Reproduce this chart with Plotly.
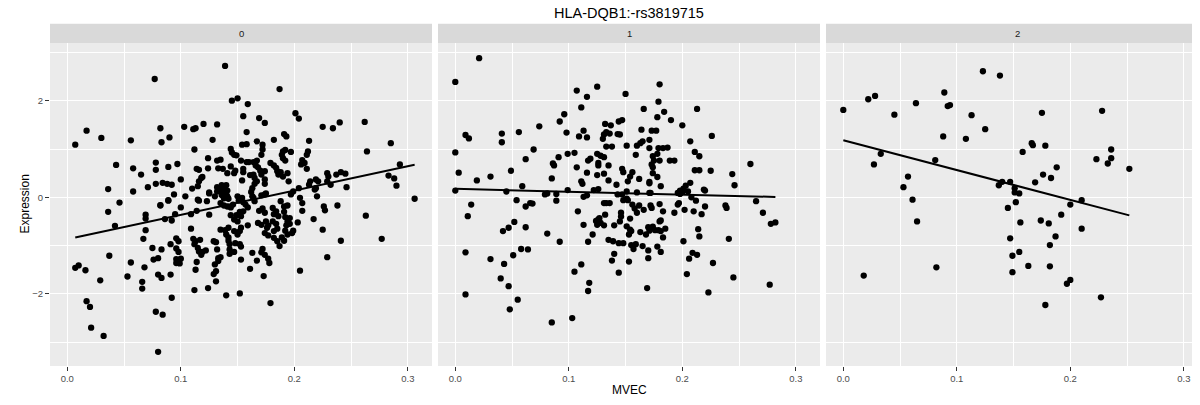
import numpy as np
import plotly.graph_objects as go
from plotly.subplots import make_subplots

# ---------------- data ----------------
genotypes = ["0", "1", "2"]
title_text = "HLA-DQB1:-rs3819715"
x_ticks = [0.0, 0.1, 0.2, 0.3]
x_tick_labels = ["0.0", "0.1", "0.2", "0.3"]
y_ticks = [-2, 0, 2]
y_tick_labels = ["\u22122", "0", "2"]

mvec_0 = [
    0.139, 0.077, 0.187, 0.145, 0.150, 0.159, 0.155, 0.169, 0.174, 0.201, 0.204, 0.007, 0.017, 0.030,
    0.056, 0.082, 0.083, 0.090, 0.103, 0.111, 0.113, 0.120, 0.132, 0.128, 0.112, 0.144, 0.145, 0.147,
    0.154, 0.158, 0.158, 0.167, 0.172, 0.172, 0.171, 0.182, 0.191, 0.193, 0.190, 0.189, 0.192, 0.197,
    0.213, 0.212, 0.211, 0.225, 0.234, 0.240, 0.262, 0.264, 0.285, 0.293, 0.283, 0.288, 0.290, 0.306,
    0.043, 0.036, 0.058, 0.058, 0.065, 0.071, 0.078, 0.078, 0.078, 0.084, 0.088, 0.092, 0.089, 0.097,
    0.100, 0.110, 0.115, 0.116, 0.119, 0.114, 0.116, 0.124, 0.124, 0.132, 0.135, 0.133, 0.137, 0.144,
    0.148, 0.141, 0.147, 0.153, 0.158, 0.160, 0.155, 0.155, 0.154, 0.164, 0.167, 0.166, 0.168, 0.170,
    0.161, 0.164, 0.165, 0.167, 0.165, 0.163, 0.162, 0.163, 0.171, 0.174, 0.174, 0.174, 0.179, 0.182,
    0.184, 0.185, 0.190, 0.192, 0.186, 0.188, 0.190, 0.194, 0.195, 0.206, 0.207, 0.209, 0.211, 0.214,
    0.213, 0.218, 0.204, 0.205, 0.197, 0.219, 0.221, 0.229, 0.230, 0.232, 0.229, 0.237, 0.241, 0.245,
    0.246, 0.132, 0.135, 0.136, 0.138, 0.140, 0.137, 0.141, 0.125, 0.130, 0.141, 0.150, 0.094, 0.104,
    0.036, 0.046, 0.042, 0.007, 0.010, 0.016, 0.037, 0.029, 0.017, 0.020, 0.021, 0.032, 0.053, 0.056,
    0.066, 0.066, 0.067, 0.068, 0.069, 0.069, 0.069, 0.075, 0.076, 0.078, 0.080, 0.083, 0.080, 0.080,
    0.083, 0.084, 0.082, 0.086, 0.089, 0.092, 0.095, 0.091, 0.091, 0.092, 0.096, 0.098, 0.096, 0.098,
    0.096, 0.100, 0.096, 0.099, 0.100, 0.109, 0.109, 0.111, 0.112, 0.113, 0.117, 0.115, 0.116, 0.118,
    0.119, 0.122, 0.114, 0.113, 0.112, 0.114, 0.116, 0.124, 0.123, 0.125, 0.125, 0.129, 0.131, 0.130,
    0.133, 0.131, 0.129, 0.131, 0.132, 0.135, 0.133, 0.135, 0.139, 0.142, 0.140, 0.142, 0.142, 0.143,
    0.140, 0.143, 0.143, 0.147, 0.144, 0.144, 0.146, 0.149, 0.147, 0.150, 0.147, 0.150, 0.152, 0.153,
    0.148, 0.152, 0.153, 0.153, 0.152, 0.151, 0.154, 0.155, 0.157, 0.159, 0.152, 0.155, 0.153, 0.159,
    0.161, 0.163, 0.164, 0.165, 0.167, 0.171, 0.172, 0.174, 0.173, 0.171, 0.174, 0.175, 0.169, 0.172,
    0.174, 0.168, 0.171, 0.175, 0.177, 0.176, 0.174, 0.177, 0.177, 0.178, 0.179, 0.181, 0.182, 0.184,
    0.186, 0.181, 0.184, 0.182, 0.185, 0.182, 0.185, 0.187, 0.188, 0.191, 0.194, 0.191, 0.192, 0.194,
    0.193, 0.192, 0.189, 0.191, 0.194, 0.199, 0.196, 0.196, 0.199, 0.198, 0.203, 0.207, 0.207, 0.205,
    0.217, 0.219, 0.220, 0.225, 0.226, 0.227, 0.229, 0.238, 0.241, 0.263, 0.277, 0.135, 0.138, 0.141,
    0.132, 0.136, 0.140, 0.142, 0.138, 0.118, 0.149, 0.082, 0.089, 0.115,
]
expr_0 = [
    2.72, 2.45, 2.24, 2.00, 2.05, 1.93, 1.68, 1.64, 1.54, 1.74, 1.63, 1.09, 1.38, 1.23,
    1.18, 1.43, 1.14, 1.24, 1.46, 1.41, 1.43, 1.52, 1.51, 1.19, 0.99, 1.00, 0.93, 0.88,
    1.09, 1.10, 1.35, 1.16, 1.09, 0.99, 0.88, 1.19, 1.31, 1.26, 0.95, 0.88, 0.98, 0.94,
    1.17, 0.95, 0.88, 1.46, 1.43, 1.55, 1.56, 0.95, 1.12, 0.68, 0.45, 0.39, 0.24, -0.03,
    0.67, 0.17, 0.60, 0.12, 0.47, 0.21, 0.72, 0.57, 0.28, 0.30, 0.28, 0.26, 0.63, 0.69,
    0.37, 0.18, 0.23, 0.33, 0.42, 0.59, 0.57, 0.81, 0.60, 0.76, 0.78, 0.60, 0.59, 0.64,
    0.55, 0.50, 0.50, 0.76, 0.73, 0.73, 0.59, 0.52, 0.35, 0.73, 0.76, 0.66, 0.62, 0.55,
    0.46, 0.47, 0.40, 0.33, 0.28, 0.19, 0.11, 0.02, 0.47, 0.54, 0.37, 0.28, 0.71, 0.66,
    0.61, 0.54, 0.81, 0.76, 0.47, 0.52, 0.43, 0.50, 0.33, 0.68, 0.77, 0.71, 0.59, 0.33,
    0.26, 0.16, 0.19, -0.01, 0.06, 0.37, 0.33, 0.50, 0.43, 0.26, 0.33, 0.47, 0.52, 0.49,
    0.21, 0.21, 0.17, 0.25, 0.16, 0.25, 0.09, 0.14, 0.10, 0.02, 0.02, 0.02, 0.06, 0.02,
    -0.30, -0.11, -0.59, -1.46, -1.41, -1.51, -1.21, -1.72, -2.15, -2.27, -2.70, -2.87, -1.64, -1.35,
    -1.75, -1.89, -0.86, -1.45, -0.36, -0.44, -0.68, -1.05, -1.29, -2.37, -3.20, -1.08, -1.26, -1.60,
    -1.67, -2.43, -0.17, -0.45, -0.07, -0.48, -0.35, -0.97, -1.60, -2.08, -0.85, -0.91, -1.06, -1.13,
    -1.28, -1.27, -1.36, -1.37, -0.21, -0.35, -0.65, -0.86, -0.97, -0.91, -0.88, -1.05, -1.12, -1.19,
    -1.13, -1.10, -1.34, -1.50, -1.92, -0.28, -0.07, -1.88, -0.08, 0.08, -0.36, -0.91, -0.93, -1.39,
    -1.32, -1.53, -1.59, -1.74, -1.08, -1.24, -1.26, -0.67, -0.68, -0.63, -0.77, -0.83, -0.90, -0.97,
    -2.03, -1.08, -1.17, -1.13, -0.37, -0.21, -0.15, -0.37, -0.46, -0.50, -0.70, -0.77, -0.70, -0.63,
    -0.95, -0.97, -1.02, -1.29, -1.99, -0.07, -0.01, -0.10, -0.15, -0.21, -0.30, -0.29, -0.39, -0.58,
    -1.48, -1.15, -0.01, -0.08, -1.31, -1.14, -1.07, -1.19, -1.63, 0.04, 0.06, 0.08, -0.28, -0.23,
    -0.32, -0.53, -0.57, -0.50, -0.58, -0.63, -0.74, -0.79, -1.27, -1.36, -2.19, -0.22, -0.35, -0.29,
    -0.39, -0.50, -0.55, -0.70, -0.65, -0.84, -0.91, -1.01, -0.08, -0.19, -0.17, -0.30, -0.41, -0.50,
    -0.58, -0.69, -0.83, -0.90, -0.77, 0.12, -0.43, -0.55, -0.69, -0.74, -0.52, -0.12, -0.28, -1.52,
    -0.45, 0.19, 0.02, -0.67, -0.19, -0.27, -1.24, -0.17, -0.90, -0.38, -0.86, -0.12, -0.17, -0.19,
    0.12, 0.05, 0.07, -0.03, -0.02, 0.40, 0.87, -0.16, -0.06, -0.05,
]

mvec_1 = [
    0.021, 0.000, 0.000, 0.009, 0.012, 0.003, 0.000, 0.019, 0.031, 0.041, 0.041, 0.049, 0.045, 0.056,
    0.062, 0.059, 0.069, 0.074, 0.086, 0.087, 0.085, 0.091, 0.092, 0.096, 0.098, 0.099, 0.105, 0.099,
    0.081, 0.079, 0.089, 0.107, 0.116, 0.125, 0.111, 0.113, 0.116, 0.109, 0.107, 0.116, 0.111, 0.112,
    0.117, 0.119, 0.125, 0.128, 0.131, 0.126, 0.126, 0.135, 0.125, 0.131, 0.135, 0.142, 0.122, 0.126,
    0.130, 0.131, 0.133, 0.133, 0.132, 0.137, 0.136, 0.138, 0.144, 0.147, 0.143, 0.145, 0.150, 0.151,
    0.147, 0.148, 0.152, 0.154, 0.156, 0.151, 0.160, 0.163, 0.165, 0.159, 0.164, 0.166, 0.162, 0.160,
    0.171, 0.173, 0.177, 0.171, 0.179, 0.183, 0.187, 0.174, 0.175, 0.173, 0.174, 0.178, 0.180, 0.174,
    0.171, 0.171, 0.181, 0.171, 0.178, 0.178, 0.179, 0.180, 0.184, 0.190, 0.189, 0.193, 0.200, 0.207,
    0.211, 0.215, 0.211, 0.215, 0.207, 0.203, 0.201, 0.198, 0.196, 0.213, 0.219, 0.226, 0.225, 0.244,
    0.246, 0.260,
    0.014, 0.011, 0.009, 0.009, 0.031, 0.043, 0.040, 0.047, 0.048, 0.055, 0.051, 0.058, 0.064, 0.042,
    0.047, 0.052, 0.062, 0.054, 0.062, 0.066, 0.068, 0.089, 0.081, 0.092, 0.085, 0.103, 0.105, 0.111,
    0.118, 0.117, 0.108, 0.113, 0.117, 0.121, 0.113, 0.116, 0.124, 0.126, 0.127, 0.128, 0.131, 0.125,
    0.132, 0.131, 0.133, 0.136, 0.135, 0.139, 0.140, 0.138, 0.144, 0.140, 0.144, 0.148, 0.145, 0.146,
    0.146, 0.143, 0.147, 0.148, 0.151, 0.152, 0.154, 0.151, 0.154, 0.155, 0.153, 0.156, 0.158, 0.160,
    0.162, 0.155, 0.157, 0.159, 0.153, 0.163, 0.166, 0.165, 0.170, 0.170, 0.169, 0.172, 0.173, 0.172,
    0.170, 0.171, 0.174, 0.176, 0.179, 0.181, 0.168, 0.178, 0.181, 0.180, 0.183, 0.180, 0.181, 0.185,
    0.183, 0.193, 0.197, 0.196, 0.202, 0.201, 0.198, 0.200, 0.205, 0.208, 0.210, 0.212, 0.217, 0.220,
    0.220, 0.214, 0.215, 0.209, 0.213, 0.206, 0.204, 0.227, 0.223, 0.238, 0.239, 0.241, 0.245, 0.265,
    0.271, 0.278, 0.282, 0.277,
]
expr_1 = [
    2.88, 2.39, 0.93, 1.29, 1.22, 0.51, 0.14, 0.35, 0.43, 1.32, 1.14, 0.55, 0.12, 1.35,
    0.79, 0.23, 0.99, 1.47, 0.70, 0.66, 0.39, 0.83, 1.57, 1.72, 1.34, 0.90, 0.92, 0.15,
    0.08, 0.06, 0.07, 2.21, 2.08, 2.29, 1.86, 1.38, 1.24, 1.26, 0.62, 0.51, 0.33, 0.28,
    0.76, 0.80, 0.90, 0.86, 0.83, 0.71, 0.66, 0.66, 0.46, 0.49, 0.35, 0.26, 0.15, 0.17,
    1.21, 1.30, 1.35, 1.05, 1.52, 1.49, 1.32, 1.05, 1.57, 1.60, 1.31, 1.30, 2.14, 1.07,
    0.59, 0.52, 0.33, 0.43, 0.52, 0.12, 1.07, 1.12, 1.16, 0.88, 1.40, 1.83, 0.38, 0.10,
    1.19, 1.38, 1.38, 1.02, 1.02, 1.02, 1.03, 0.85, 0.76, 0.68, 0.62, 0.90, 0.76, 0.50,
    0.32, 0.29, 0.23, 0.09, 0.42, 1.66, 1.98, 2.34, 1.77, 1.60, 0.76, 0.76, 1.49, 1.16,
    0.94, 0.85, 0.56, 0.56, 0.30, 0.24, 0.18, 0.14, 0.09, 1.83, 0.16, 1.27, 0.55, 0.48,
    0.25, 0.69,
    -0.15, -0.39, -1.14, -2.01, -1.28, -1.38, -1.68, -1.84, -2.32, -2.12, -1.20, -1.07, -1.08, -0.70,
    -0.63, -0.51, -0.62, -0.06, -0.19, -0.12, -0.13, -0.07, -0.75, -0.92, -2.59, -2.50, -1.54, -1.39,
    -1.77, -1.94, -0.29, -0.57, -0.92, -0.77, 0.01, 0.04, -0.49, -0.46, -0.43, -0.53, -0.58, -0.57,
    -0.36, -0.12, -0.12, -0.12, -0.88, -0.91, -1.17, -1.31, -1.56, -0.58, -0.95, -0.95, -0.50, -0.40,
    -0.32, 0.06, 0.06, -0.06, -0.03, -0.06, -0.44, -0.60, -0.67, -0.70, -0.77, -0.15, -0.23, -0.32,
    -0.17, -0.99, -1.07, -0.97, -1.33, -0.72, -0.26, -1.01, -1.10, -1.26, -1.88, -0.17, -0.22, 0.09,
    -0.62, -0.69, -0.61, -0.68, -0.68, -0.70, -0.77, -1.02, -1.13, -0.14, -0.29, -0.50, -0.48, -0.65,
    -0.83, -0.32, -0.12, -0.15, -0.26, -0.91, 0.07, 0.11, 0.12, 0.00, -0.29, -0.07, -0.35, -0.19,
    0.14, -0.66, -0.81, -1.15, -1.19, -1.27, -1.59, -1.36, -1.97, -0.17, -0.22, -0.86, -1.66, -0.08,
    -0.32, -0.55, -0.52, -1.81,
]

mvec_2 = [
    0.000, 0.022, 0.028, 0.033, 0.027, 0.045, 0.064, 0.057, 0.053, 0.061, 0.081, 0.089, 0.088, 0.092,
    0.094, 0.113, 0.108, 0.123, 0.138, 0.125, 0.158, 0.166, 0.167, 0.178, 0.175, 0.188, 0.176, 0.183,
    0.169, 0.140, 0.147, 0.137, 0.151, 0.151, 0.155, 0.210, 0.228, 0.223, 0.236, 0.236, 0.233, 0.252,
    0.200, 0.192, 0.145, 0.152, 0.065, 0.156, 0.174, 0.181, 0.210, 0.187, 0.147, 0.182, 0.155, 0.149,
    0.082, 0.163, 0.182, 0.149, 0.018, 0.200, 0.197, 0.227, 0.178,
]
expr_2 = [
    1.81, 2.03, 2.10, 0.90, 0.68, 1.71, 1.95, 0.43, 0.21, -0.05, 0.77, 2.17, 1.26, 1.89,
    1.91, 1.70, 1.21, 2.61, 2.52, 1.41, 0.94, 1.12, 1.08, 1.07, 1.75, 0.62, 0.47, 0.40,
    0.31, 0.32, 0.32, 0.25, 0.19, 0.10, 0.08, -0.06, 1.79, 0.79, 0.99, 0.81, 0.70, 0.59,
    -0.15, -0.36, -0.22, -0.10, -0.50, -0.52, -0.48, -0.54, -0.65, -0.81, -0.85, -0.99, -1.13, -1.21,
    -1.45, -1.42, -1.43, -1.55, -1.62, -1.71, -1.79, -2.07, -2.23,
]

mvec = [mvec_0, mvec_1, mvec_2]
expr = [expr_0, expr_1, expr_2]

# ---------------- styling ----------------
FONT = "Liberation Sans, Arial, Helvetica, sans-serif"
PANEL_BG = "#EBEBEB"
STRIP_BG = "#D9D9D9"

fig = make_subplots(rows=1, cols=3, shared_yaxes=True, horizontal_spacing=6 / 1158)

for i in range(3):
    xs = np.array(mvec[i])
    ys = np.array(expr[i])
    fig.add_trace(
        go.Scatter(
            x=xs, y=ys, mode="markers",
            marker=dict(color="black", size=6.3, line=dict(width=0)),
            showlegend=False, hoverinfo="skip",
        ),
        row=1, col=i + 1,
    )
    slope, intercept = np.polyfit(xs, ys, 1)
    lx = np.array([xs.min(), xs.max()])
    fig.add_trace(
        go.Scatter(
            x=lx, y=intercept + slope * lx, mode="lines",
            line=dict(color="black", width=2),
            showlegend=False, hoverinfo="skip",
        ),
        row=1, col=i + 1,
    )

x_range = [-0.01524, 0.3213]
y_range = [-3.493, 3.195]

for i in range(3):
    fig.update_xaxes(
        row=1, col=i + 1,
        range=x_range, tickmode="array", tickvals=x_ticks, ticktext=x_tick_labels,
        ticks="outside", ticklen=4, tickwidth=1, tickcolor="#333333",
        tickfont=dict(size=9.5, color="#4D4D4D", family=FONT),
        showgrid=True, gridcolor="white", gridwidth=1.4,
        minor=dict(tickvals=[0.05, 0.15, 0.25], showgrid=True, gridcolor="white",
                   gridwidth=0.7, ticks=""),
        zeroline=False, showline=False,
    )
    fig.update_yaxes(
        row=1, col=i + 1,
        range=y_range, tickmode="array", tickvals=y_ticks, ticktext=y_tick_labels,
        ticks="outside" if i == 0 else "", ticklen=4, tickwidth=1, tickcolor="#333333",
        showticklabels=(i == 0),
        tickfont=dict(size=9.5, color="#4D4D4D", family=FONT),
        showgrid=True, gridcolor="white", gridwidth=1.4,
        minor=dict(tickvals=[-3, -1, 1, 3], showgrid=True, gridcolor="white",
                   gridwidth=0.7, ticks=""),
        zeroline=False, showline=False,
    )

PLOT_H = 323.0
strip_top = 1 + 19.3 / PLOT_H
shapes = []
annotations = []
xrefs = ["x", "x2", "x3"]
for i, g in enumerate(genotypes):
    shapes.append(dict(
        type="rect", xref=f"{xrefs[i]} domain", yref="paper",
        x0=0, x1=1, y0=1, y1=strip_top,
        fillcolor=STRIP_BG, line=dict(width=0), layer="below",
    ))
    annotations.append(dict(
        xref=f"{xrefs[i]} domain", yref="paper", x=0.5, y=(1 + strip_top) / 2,
        text=g, showarrow=False, xanchor="center", yanchor="middle",
        font=dict(size=9.5, color="#1A1A1A", family=FONT),
    ))

annotations.append(dict(
    xref="paper", yref="paper", x=0.5, y=1 + 30 / PLOT_H,
    text=title_text, showarrow=False, xanchor="center", yanchor="middle",
    font=dict(size=14.5, color="black", family=FONT),
))
annotations.append(dict(
    xref="paper", yref="paper", x=0.5, y=-23.7 / PLOT_H,
    text="MVEC", showarrow=False, xanchor="center", yanchor="middle",
    font=dict(size=12, color="black", family=FONT),
))
annotations.append(dict(
    xref="paper", yref="paper", x=(16 - 42) / 1158.0, y=0.5,
    text="Expression", showarrow=False, xanchor="center", yanchor="middle",
    textangle=-90, font=dict(size=12, color="black", family=FONT),
))

fig.update_layout(
    width=1200, height=405,
    margin=dict(l=42, r=0, t=35, b=47, pad=0),
    plot_bgcolor=PANEL_BG, paper_bgcolor="white",
    font=dict(family=FONT, color="black"),
    shapes=shapes, annotations=annotations,
    showlegend=False,
)

fig.write_html("out.html")
